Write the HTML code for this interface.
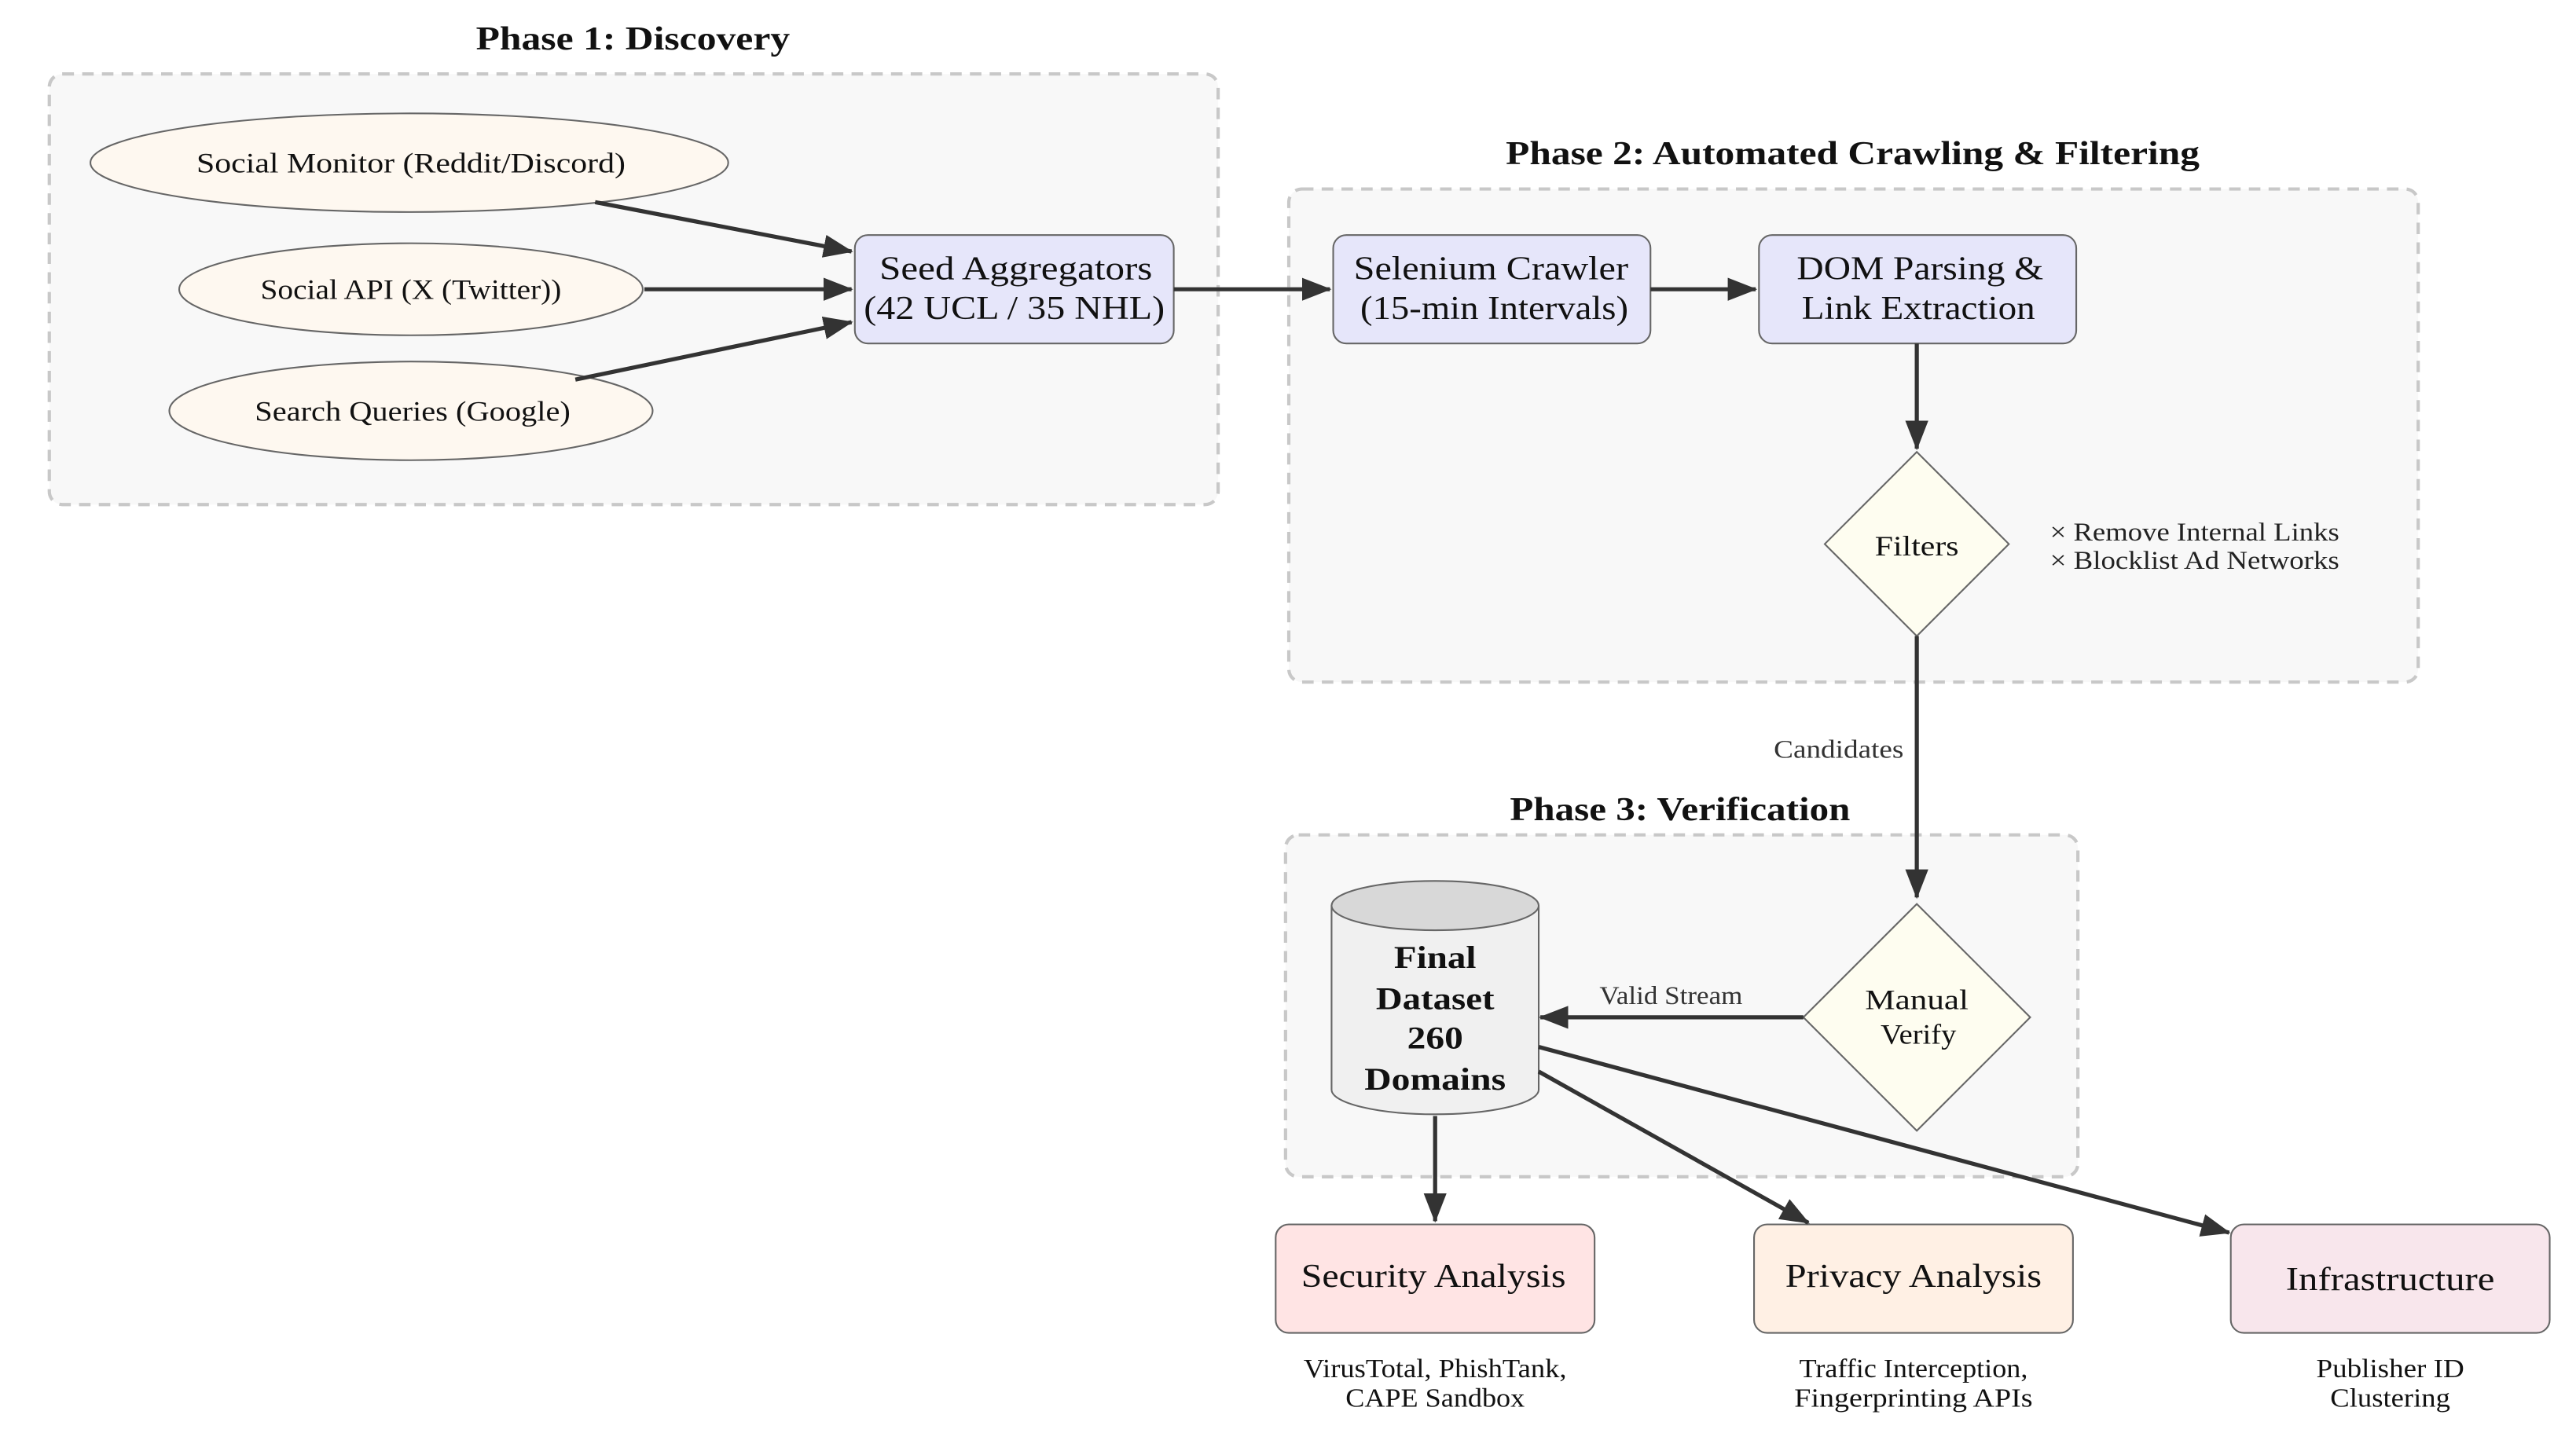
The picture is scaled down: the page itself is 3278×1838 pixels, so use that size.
<!DOCTYPE html>
<html><head><meta charset="utf-8"><style>html,body{margin:0;padding:0;background:#fff}svg{display:block}</style></head>
<body>
<svg width="3278" height="1838" viewBox="0 0 1567 878.6" preserveAspectRatio="none" xmlns="http://www.w3.org/2000/svg" font-family="'Liberation Serif', serif">
<defs><marker id="b" markerWidth="18" markerHeight="14" refX="17" refY="7" orient="auto" markerUnits="userSpaceOnUse"><path d="M0,0 L18,7 L0,14 z" fill="#333"/></marker></defs>
<g fill="#f8f8f8" stroke="#c8c8c8" stroke-width="2" stroke-dasharray="7,5">
<rect x="30" y="45" width="711" height="262" rx="8"/>
<rect x="784" y="115" width="687" height="300" rx="8"/>
<rect x="782" y="508" width="482" height="208" rx="8"/>
</g>
<g font-weight="bold" font-size="20" text-anchor="middle" fill="#111" lengthAdjust="spacingAndGlyphs">
<text x="385" y="30" textLength="191" lengthAdjust="spacingAndGlyphs">Phase 1: Discovery</text>
<text x="1127" y="100" textLength="422" lengthAdjust="spacingAndGlyphs">Phase 2: Automated Crawling &amp; Filtering</text>
<text x="1022" y="499" textLength="207" lengthAdjust="spacingAndGlyphs">Phase 3: Verification</text>
</g>
<g fill="#fef8f0" stroke="#666" stroke-width="1">
<ellipse cx="249" cy="99" rx="194" ry="30"/>
<ellipse cx="250" cy="176" rx="141" ry="28"/>
<ellipse cx="250" cy="250" rx="147" ry="30"/>
</g>
<g font-size="17" text-anchor="middle" fill="#111">
<text x="250" y="105" textLength="261" lengthAdjust="spacingAndGlyphs">Social Monitor (Reddit/Discord)</text>
<text x="250" y="182" textLength="183" lengthAdjust="spacingAndGlyphs">Social API (X (Twitter))</text>
<text x="251" y="256" textLength="192" lengthAdjust="spacingAndGlyphs">Search Queries (Google)</text>
</g>
<g stroke="#666" stroke-width="1">
<rect x="520" y="143" width="194" height="66" rx="8" fill="#e6e6fa"/>
<rect x="811" y="143" width="193" height="66" rx="8" fill="#e6e6fa"/>
<rect x="1070" y="143" width="193" height="66" rx="8" fill="#e6e6fa"/>
<rect x="776" y="745" width="194" height="66" rx="8" fill="#ffe4e4"/>
<rect x="1067" y="745" width="194" height="66" rx="8" fill="#fff0e4"/>
<rect x="1357" y="745" width="194" height="66" rx="8" fill="#f8e6ec"/>
<path d="M1166,275 L1222,331 L1166,387 L1110,331 z" fill="#fefdf0"/>
<path d="M1166,550 L1235,619 L1166,688 L1097,619 z" fill="#fefdf0"/>
<path d="M810,551 V663 A63,15 0 0 0 936,663 V551" fill="#f0f0f0"/>
<ellipse cx="873" cy="551" rx="63" ry="15" fill="#d8d8d8"/>
</g>
<g font-size="20" text-anchor="middle" fill="#111">
<text x="618" y="170" textLength="166" lengthAdjust="spacingAndGlyphs">Seed Aggregators</text><text x="617" y="194" textLength="183" lengthAdjust="spacingAndGlyphs">(42 UCL / 35 NHL)</text>
<text x="907" y="170" textLength="167" lengthAdjust="spacingAndGlyphs">Selenium Crawler</text><text x="909" y="194" textLength="163" lengthAdjust="spacingAndGlyphs">(15-min Intervals)</text>
<text x="1168" y="170" textLength="150" lengthAdjust="spacingAndGlyphs">DOM Parsing &amp;</text><text x="1167" y="194" textLength="142" lengthAdjust="spacingAndGlyphs">Link Extraction</text>
<text x="872" y="783" textLength="161" lengthAdjust="spacingAndGlyphs">Security Analysis</text>
<text x="1164" y="783" textLength="156" lengthAdjust="spacingAndGlyphs">Privacy Analysis</text>
<text x="1454" y="785" textLength="127" lengthAdjust="spacingAndGlyphs">Infrastructure</text>
</g>
<g font-size="19" font-weight="bold" text-anchor="middle" fill="#111">
<text x="873" y="589" textLength="50" lengthAdjust="spacingAndGlyphs">Final</text><text x="873" y="614" textLength="72" lengthAdjust="spacingAndGlyphs">Dataset</text><text x="873" y="638" textLength="34" lengthAdjust="spacingAndGlyphs">260</text><text x="873" y="663" textLength="86" lengthAdjust="spacingAndGlyphs">Domains</text>
</g>
<g font-size="17" text-anchor="middle" fill="#111">
<text x="1166" y="338" textLength="51" lengthAdjust="spacingAndGlyphs">Filters</text>
<text x="1166" y="614" textLength="63" lengthAdjust="spacingAndGlyphs">Manual</text><text x="1167" y="635" textLength="46" lengthAdjust="spacingAndGlyphs">Verify</text>
</g>
<g font-size="15.5" fill="#222">
<text x="1247" y="329" textLength="176" lengthAdjust="spacingAndGlyphs">× Remove Internal Links</text>
<text x="1247" y="346" textLength="176" lengthAdjust="spacingAndGlyphs">× Blocklist Ad Networks</text>
<text x="1079" y="461" fill="#333" textLength="79" lengthAdjust="spacingAndGlyphs">Candidates</text>
<text x="973" y="611" fill="#333" textLength="87" lengthAdjust="spacingAndGlyphs">Valid Stream</text>
</g>
<g font-size="16" text-anchor="middle" fill="#111">
<text x="873" y="838" textLength="160" lengthAdjust="spacingAndGlyphs">VirusTotal, PhishTank,</text><text x="873" y="856" textLength="109" lengthAdjust="spacingAndGlyphs">CAPE Sandbox</text>
<text x="1164" y="838" textLength="139" lengthAdjust="spacingAndGlyphs">Traffic Interception,</text><text x="1164" y="856" textLength="145" lengthAdjust="spacingAndGlyphs">Fingerprinting APIs</text>
<text x="1454" y="838" textLength="90" lengthAdjust="spacingAndGlyphs">Publisher ID</text><text x="1454" y="856" textLength="73" lengthAdjust="spacingAndGlyphs">Clustering</text>
</g>
<g stroke="#333" stroke-width="2.5" fill="none" marker-end="url(#b)">
<line x1="362" y1="123" x2="518" y2="153"/>
<line x1="392" y1="176" x2="518" y2="176"/>
<line x1="350" y1="231" x2="518" y2="196"/>
<line x1="714" y1="176" x2="809" y2="176"/>
<line x1="1004" y1="176" x2="1068" y2="176"/>
<line x1="1166" y1="209" x2="1166" y2="273"/>
<line x1="1166" y1="387" x2="1166" y2="546"/>
<line x1="1097" y1="619" x2="937" y2="619"/>
<line x1="873" y1="679" x2="873" y2="743"/>
<line x1="936" y1="652" x2="1100" y2="744"/>
<line x1="936" y1="637" x2="1356" y2="750"/>
</g>
</svg>
</body></html>
